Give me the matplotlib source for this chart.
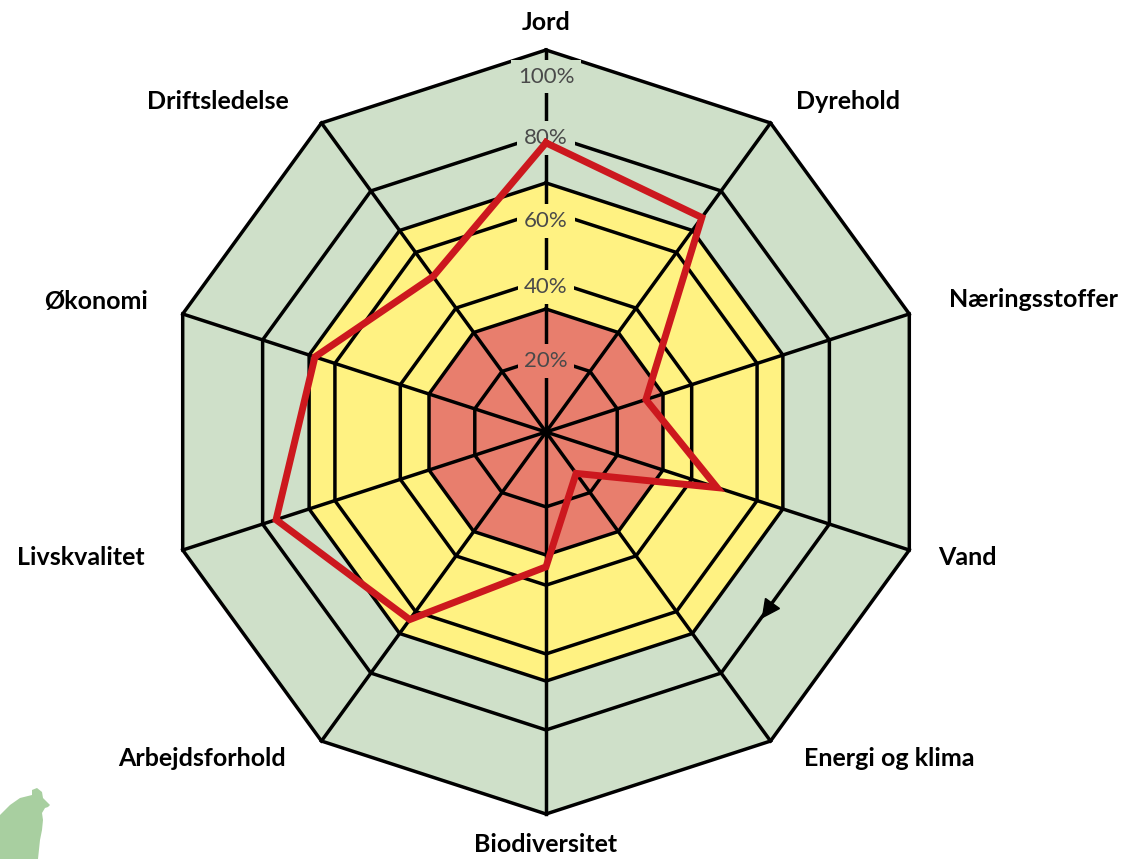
import numpy as np
import matplotlib
matplotlib.use('Agg')
import matplotlib.pyplot as plt
from matplotlib.markers import MarkerStyle
from matplotlib.transforms import Affine2D
from matplotlib.patches import Polygon

# === 数据区 ===
categories = ['Jord', 'Dyrehold', 'Næringsstoffer', 'Vand', 'Energi og klima',
              'Biodiversitet', 'Arbejdsforhold', 'Livskvalitet', 'Økonomi', 'Driftsledelse']
scores = [75.7, 69.4, 27.5, 47.1, 13.4, 35.3, 60.7, 74.3, 63.6, 50.3]   # 得分（%）

rings = [19.6, 32.2, 40.1, 58.1, 65.2, 78.0, 100.0]   # 网格环
zone_limits = [100.0, 65.2, 32.2]                     # 色带上限（外->内）
zone_colors = ['#cfe0c9', '#fff282', '#e87e6d']
tick_labels = ['20%', '40%', '60%', '80%', '100%']
tick_pos = [18.6, 38.0, 55.2, 77.0, 93.0]

# 标签偏移（像素）：dx, dy, 对齐方式
label_offsets = [(0, 28, 'center'), (25, 21, 'left'), (40, 14, 'left'), (29, -7, 'left'),
                 (33, -17, 'left'), (0, -31, 'center'), (-36, -17, 'right'),
                 (-38, -7, 'right'), (-35, 12, 'right'), (-33, 21, 'right')]

font = 'Lato'
line_red = '#cc181e'

# === 绘图 ===
n = len(categories)
theta = np.deg2rad(np.arange(n) * 360.0 / n)
theta_c = np.append(theta, theta[0])

fig = plt.figure(figsize=(11.24, 8.59), dpi=100)
ax = fig.add_axes([164 / 1124, 45 / 859, 764 / 1124, 764 / 859], projection='polar')
ax.set_theta_offset(np.pi / 2)
ax.set_theta_direction(-1)
ax.set_ylim(0, 100)
ax.set_axis_off()

# 色带
for lim, c in zip(zone_limits, zone_colors):
    ax.fill(theta_c, [lim] * (n + 1), color=c, lw=0, zorder=1, clip_on=False)

# 网格环和辐射线
for r in rings:
    ax.plot(theta_c, [r] * (n + 1), color='black', lw=2.5, zorder=2,
            solid_joinstyle='miter', clip_on=False)
for t in theta:
    ax.plot([t, t], [0, 100], color='black', lw=2.5, zorder=2, clip_on=False)


def zone_color(v):
    c = zone_colors[0]
    for lim, col in zip(zone_limits, zone_colors):
        if v <= lim:
            c = col
    return c


# 百分比刻度
for p, lab in zip(tick_pos, tick_labels):
    ax.text(0, p, lab, ha='center', va='center', fontsize=16, color='#4a4a4a',
            family=font, weight='normal', zorder=4,
            bbox=dict(boxstyle='square,pad=0.3', fc=zone_color(p), ec='none'))

# 方向箭头（80%环上，Vand -> Energi og klima）
r80 = rings[5]
x0, y0 = r80 * np.sin(theta[3]), r80 * np.cos(theta[3])
x1, y1 = r80 * np.sin(theta[4]), r80 * np.cos(theta[4])
s = 0.58
xa, ya = x0 + s * (x1 - x0), y0 + s * (y1 - y0)
ang = np.degrees(np.arctan2(y1 - y0, x1 - x0))
ax.plot(np.arctan2(xa, ya), np.hypot(xa, ya), ls='none',
        marker=MarkerStyle('^', transform=Affine2D().rotate_deg(ang - 90)),
        markersize=12, color='black', zorder=3, clip_on=False)

# 得分折线
ax.plot(theta_c, scores + [scores[0]], color=line_red, lw=5, zorder=6,
        solid_joinstyle='miter', clip_on=False)

# 指标标签
for t, name, (dx, dy, ha) in zip(theta, categories, label_offsets):
    ax.annotate(name, xy=(t, 100), xytext=(dx * 0.72, dy * 0.72), textcoords='offset points',
                ha=ha, va='center', fontsize=18, family=font, weight='bold',
                color='black', annotation_clip=False)

# 左下角标志
logo = [(0, 815), (10, 805), (20, 798), (32, 795), (32, 790), (37, 788), (42, 792),
        (43, 798), (50, 805), (48, 807), (45, 808), (42, 813), (43, 820), (42, 830),
        (40, 840), (38, 859), (0, 859)]
fig.add_artist(Polygon([(x / 1124, 1 - y / 859) for x, y in logo], closed=True,
                       transform=fig.transFigure, fc='#a8cfa0', ec='none'))

fig.savefig('out.png', dpi=100)
